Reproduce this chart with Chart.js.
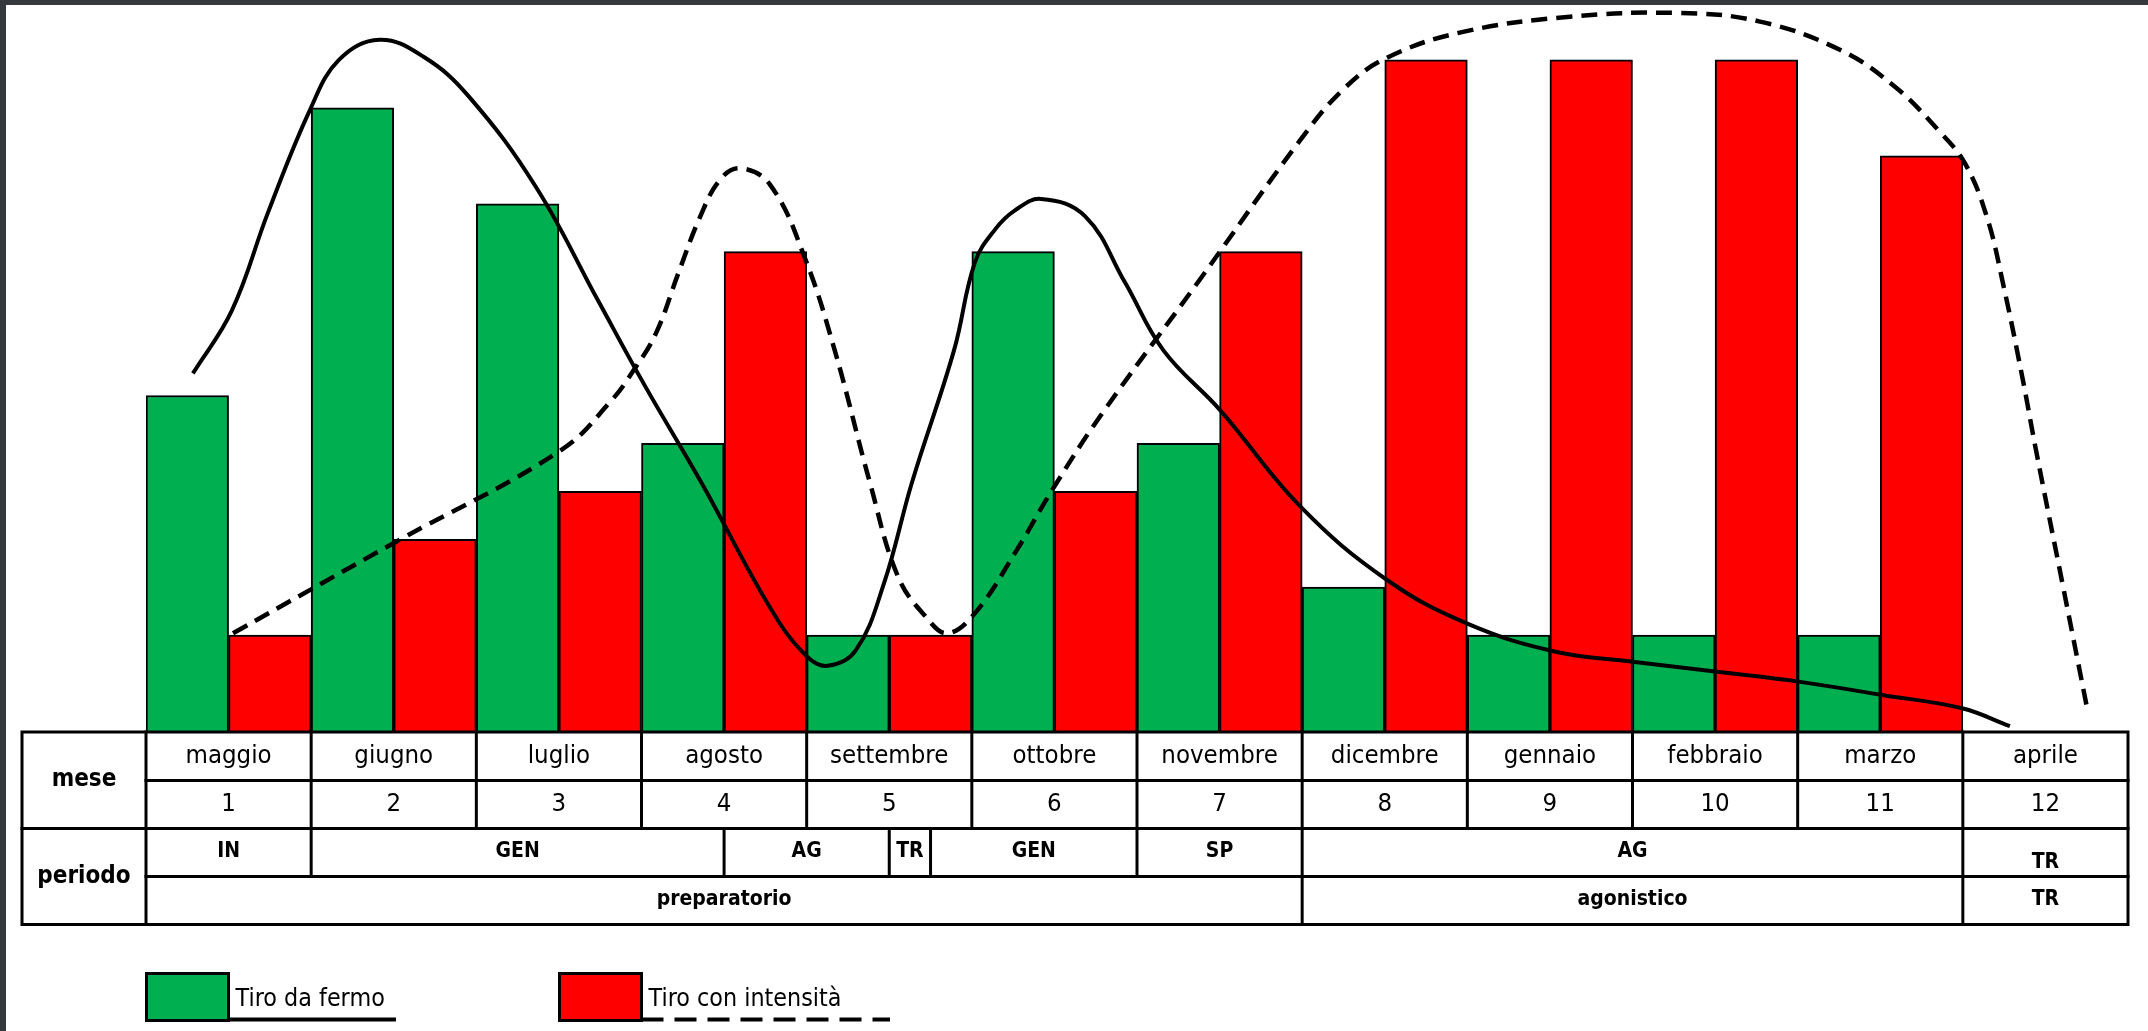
<!DOCTYPE html>
<html>
<head>
<meta charset="utf-8">
<title>Tiro da fermo / Tiro con intensità</title>
<script src="https://cdn.jsdelivr.net/npm/chart.js@4.4.1/dist/chart.umd.min.js"></script>
<style>
  html, body { margin: 0; padding: 0; background: #ffffff; }
  #wrap { position: absolute; left: 0; top: 0; width: 2148px; height: 1031px; overflow: hidden; background: #ffffff; }
  #bars, #curves { position: absolute; left: 0; top: 0; }
  #edgeTop { position: absolute; left: 0; top: 0; width: 2148px; height: 5px; background: #35383d; }
  #edgeLeft { position: absolute; left: 0; top: 0; width: 6px; height: 1031px; background: #35383d; }
</style>
</head>
<body>
<div id="wrap">
  <canvas id="bars" width="2148" height="1031"></canvas>
  <canvas id="curves" width="2148" height="1031"></canvas>
  <div id="edgeTop"></div>
  <div id="edgeLeft"></div>
</div>
<script>
// Months of the season and their order number
const months = ['maggio', 'giugno', 'luglio', 'agosto', 'settembre', 'ottobre',
                'novembre', 'dicembre', 'gennaio', 'febbraio', 'marzo', 'aprile'];
const monthNumbers = ['1', '2', '3', '4', '5', '6', '7', '8', '9', '10', '11', '12'];

// Monthly volume of each kind of shooting work
const fermoBars     = [3.5, 6.5, 5.5, 3, 1, 5, 3, 1.5, 1, 1, 1, null];
const intensitaBars = [1, 2, 2.5, 5, 1, 2.5, 5, 7, 7, 7, 6, null];

// Trend curves (x in months from the start of maggio, y in the same units as the bars)
const fermoCurveX = [0.284, 0.521, 0.739, 0.993, 1.168, 1.414, 1.683, 1.954, 2.359, 2.737,
                     3.021, 3.363, 3.788, 4.000, 4.128, 4.297, 4.468, 4.637, 4.892, 5.019,
                     5.140, 5.261, 5.419, 5.685, 5.927, 6.160, 6.502, 6.990, 7.514, 8.000,
                     8.528, 9.013, 9.500, 10.025, 10.510, 10.995, 11.285];
const fermoCurveY = [3.73, 4.39, 5.41, 6.48, 7.00, 7.21, 7.03, 6.62, 5.68, 4.49,
                     3.60, 2.59, 1.26, 0.78, 0.68, 0.84, 1.54, 2.59, 3.97, 4.89,
                     5.23, 5.43, 5.55, 5.37, 4.68, 3.97, 3.35, 2.34, 1.575, 1.12,
                     0.83, 0.72, 0.62, 0.51, 0.376, 0.237, 0.05];

const intensitaCurveX = [0.527, 1.520, 2.513, 2.819, 2.955, 3.088, 3.224, 3.354, 3.475, 3.596,
                         3.778, 3.990, 4.170, 4.383, 4.553, 4.722, 4.850, 5.019, 5.273, 5.485,
                         5.776, 6.381, 6.987, 7.247, 7.510, 7.967, 8.621, 9.279, 9.772, 10.262,
                         10.589, 10.850, 11.013, 11.146, 11.243, 11.358, 11.443, 11.603, 11.758];
const intensitaCurveY = [1.02, 1.98, 2.93, 3.45, 3.77, 4.15, 4.78, 5.36, 5.75, 5.87,
                         5.70, 4.93, 3.97, 2.59, 1.61, 1.19, 1.02, 1.23, 1.89, 2.51,
                         3.28, 4.71, 6.16, 6.69, 7.02, 7.29, 7.45, 7.49, 7.40, 7.10,
                         6.72, 6.27, 5.92, 5.36, 4.67, 3.71, 2.93, 1.54, 0.19];

// Training phases (start / end in months from the start of maggio)
const phaseLabels = ['IN', 'GEN', 'AG', 'TR', 'GEN', 'SP', 'AG', 'TR'];
const phaseStart  = [0, 1, 3.5, 4.5, 4.75, 6, 7, 11];
const phaseEnd    = [1, 3.5, 4.5, 4.75, 6, 7, 11, 12];

// Macro periods
const periodLabels = ['preparatorio', 'agonistico', 'TR'];
const periodStart  = [0, 7, 11];
const periodEnd    = [7, 11, 12];

const seriesNames = ['Tiro da fermo', 'Tiro con intensità'];

const GREEN = '#00b050';
const RED = '#ff0000';
const FONT = '"DejaVu Sans", "Liberation Sans", sans-serif';

// Both canvases share the same plot rectangle
const PADDING = { left: 146, right: 20, top: 12, bottom: 300 };
const Y_MAX = 7.5;

function toPoints(xs, ys) {
  return xs.map((x, i) => ({ x: x, y: ys[i] }));
}

// Text squeezed horizontally to get a narrow face
function narrowText(ctx, txt, x, y, font, sx, align, baseline) {
  ctx.save();
  ctx.font = font;
  ctx.fillStyle = '#000';
  ctx.textAlign = align || 'center';
  ctx.textBaseline = baseline || 'middle';
  ctx.translate(x, y);
  ctx.scale(sx, 1);
  ctx.fillText(txt, 0, 0);
  ctx.restore();
}

// Draws the month / phase table under the plot and the legend
const seasonTable = {
  id: 'seasonTable',
  afterDraw(chart) {
    const ctx = chart.ctx;
    const xs = chart.scales.x;
    // month position u (0 = start of maggio, 12 = end of aprile) on the category scale
    const X = u => xs.getPixelForValue(u - 0.5);
    const rows = [732, 780.5, 828.5, 876.5, 924.5];
    const left = 22;
    const right = X(12);

    ctx.save();
    ctx.strokeStyle = '#000';
    ctx.lineWidth = 3;
    ctx.lineCap = 'square';
    const line = (x1, y1, x2, y2) => { ctx.beginPath(); ctx.moveTo(x1, y1); ctx.lineTo(x2, y2); ctx.stroke(); };

    ctx.strokeRect(left, rows[0], right - left, rows[4] - rows[0]);
    line(X(0), rows[0], X(0), rows[4]);
    line(X(0), rows[1], right, rows[1]);
    line(left, rows[2], right, rows[2]);
    line(X(0), rows[3], right, rows[3]);
    for (let i = 1; i < 12; i++) line(X(i), rows[0], X(i), rows[2]);
    for (let i = 1; i < phaseStart.length; i++) line(X(phaseStart[i]), rows[2], X(phaseStart[i]), rows[3]);
    for (let i = 1; i < periodStart.length; i++) line(X(periodStart[i]), rows[3], X(periodStart[i]), rows[4]);
    ctx.restore();

    const regular = '25px ' + FONT;
    const bold = 'bold 21px ' + FONT;
    const head = 'bold 24px ' + FONT;

    narrowText(ctx, 'mese', (left + X(0)) / 2, (rows[0] + rows[2]) / 2, head, 0.9);
    narrowText(ctx, 'periodo', (left + X(0)) / 2, (rows[2] + rows[4]) / 2, head, 0.9);

    for (let i = 0; i < 12; i++) {
      const cx = X(i + 0.5);
      narrowText(ctx, months[i], cx, (rows[0] + rows[1]) / 2, regular, 0.92);
      narrowText(ctx, monthNumbers[i], cx, (rows[1] + rows[2]) / 2, regular, 0.92);
    }
    for (let i = 0; i < phaseLabels.length; i++) {
      const cx = X((phaseStart[i] + phaseEnd[i]) / 2);
      const shift = phaseStart[i] >= 11 ? 11 : 0;
      narrowText(ctx, phaseLabels[i], cx, (rows[2] + rows[3]) / 2 - 1 + shift, bold, 0.9);
    }
    for (let i = 0; i < periodLabels.length; i++) {
      const cx = X((periodStart[i] + periodEnd[i]) / 2);
      narrowText(ctx, periodLabels[i], cx, (rows[3] + rows[4]) / 2 - 1, bold, 0.9);
    }

    // Legend
    const legendFont = '24px ' + FONT;
    const boxes = [
      { x: 146.5, color: GREEN, text: seriesNames[0], lineEnd: 396, dash: [] },
      { x: 559.5, color: RED, text: seriesNames[1], lineEnd: 890, dash: [22, 11] }
    ];
    boxes.forEach(b => {
      ctx.save();
      ctx.fillStyle = b.color;
      ctx.fillRect(b.x, 973.5, 82, 47);
      ctx.strokeStyle = '#000';
      ctx.lineWidth = 3;
      ctx.strokeRect(b.x, 973.5, 82, 47);
      ctx.lineWidth = 4;
      ctx.setLineDash(b.dash);
      ctx.beginPath();
      ctx.moveTo(b.x + 82, 1019.5);
      ctx.lineTo(b.lineEnd, 1019.5);
      ctx.stroke();
      ctx.restore();
      narrowText(ctx, b.text, b.x + 89, 1006, legendFont, 0.93, 'left', 'alphabetic');
    });
  }
};

// Monthly bars
new Chart(document.getElementById('bars'), {
  type: 'bar',
  data: {
    labels: months,
    datasets: [
      {
        label: seriesNames[0],
        data: fermoBars,
        backgroundColor: GREEN,
        borderColor: '#000',
        borderWidth: 2,
        categoryPercentage: 1,
        barPercentage: 1
      },
      {
        label: seriesNames[1],
        data: intensitaBars,
        backgroundColor: RED,
        borderColor: '#000',
        borderWidth: 2,
        categoryPercentage: 1,
        barPercentage: 1
      }
    ]
  },
  options: {
    responsive: false,
    animation: false,
    devicePixelRatio: 1,
    layout: { padding: PADDING },
    plugins: { legend: { display: false }, tooltip: { enabled: false } },
    scales: {
      x: { display: false, offset: true, grid: { display: false } },
      y: { display: false, min: 0, max: Y_MAX }
    }
  },
  plugins: [seasonTable]
});

// Trend curves drawn over the bars on the same plot rectangle
new Chart(document.getElementById('curves'), {
  type: 'line',
  data: {
    datasets: [
      {
        label: seriesNames[0],
        data: toPoints(fermoCurveX, fermoCurveY),
        borderColor: '#000',
        borderWidth: 4,
        pointRadius: 0,
        fill: false,
        tension: 0.4,
        borderJoinStyle: 'round',
        clip: false
      },
      {
        label: seriesNames[1],
        data: toPoints(intensitaCurveX, intensitaCurveY),
        borderColor: '#000',
        borderWidth: 4.5,
        borderDash: [16, 9],
        pointRadius: 0,
        fill: false,
        tension: 0.4,
        clip: false
      }
    ]
  },
  options: {
    responsive: false,
    animation: false,
    devicePixelRatio: 1,
    layout: { padding: PADDING },
    plugins: { legend: { display: false }, tooltip: { enabled: false } },
    scales: {
      x: { type: 'linear', display: false, min: 0, max: 12, offset: false },
      y: { display: false, min: 0, max: Y_MAX }
    }
  }
});
</script>
</body>
</html>
